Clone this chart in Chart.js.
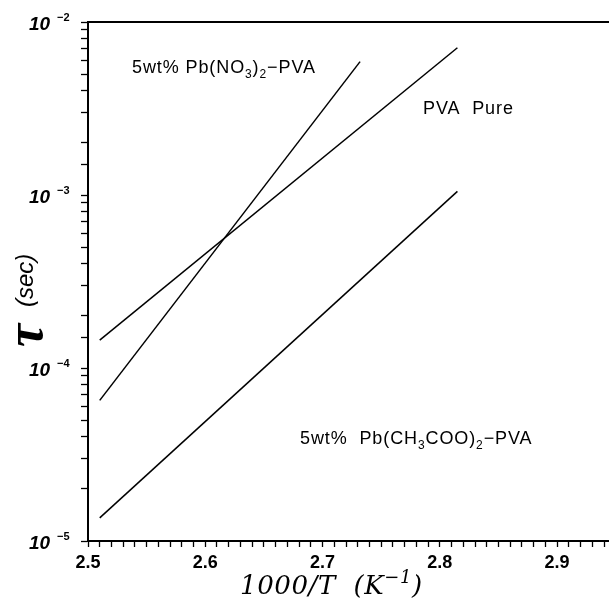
<!DOCTYPE html>
<html>
<head>
<meta charset="utf-8">
<script src="https://cdn.jsdelivr.net/npm/chart.js@4/dist/chart.umd.min.js"></script>
<style>
  html, body { margin: 0; padding: 0; background: #fff; }
  #wrap { width: 609px; height: 600px; position: relative; }
</style>
</head>
<body>
<div id="wrap"><canvas id="c" width="609" height="600"></canvas></div>
<script>
// ---- data ----
const seriesNames = ['PVA Pure', '5wt% Pb(NO3)2-PVA', '5wt% Pb(CH3COO)2-PVA'];
const pvaPureX = [2.510, 2.815];
const pvaPureY = [1.45e-4, 7.1e-3];
const pbNitrateX = [2.510, 2.732];
const pbNitrateY = [6.5e-5, 5.9e-3];
const pbAcetateX = [2.510, 2.815];
const pbAcetateY = [1.36e-5, 1.05e-3];
const xTickValues = [2.5, 2.6, 2.7, 2.8, 2.9];
const xTickLabels = ['2.5', '2.6', '2.7', '2.8', '2.9'];
const yTickValues = [1e-5, 1e-4, 1e-3, 1e-2];
const yTickExponents = ['\u22125', '\u22124', '\u22123', '\u22122'];

function pts(xs, ys) { return xs.map((x, i) => ({ x: x, y: ys[i] })); }

function drawRich(ctx, parts, x, y, size, family, style) {
  let cx = x;
  for (const [t, kind] of parts) {
    const s = kind === 'n' ? size : Math.round(size * 0.68);
    const dy = kind === 'sub' ? size * 0.28 : (kind === 'sup' ? -size * 0.42 : 0);
    ctx.font = (style ? style + ' ' : '') + s + 'px ' + family;
    ctx.fillText(t, cx, y + dy);
    cx += ctx.measureText(t).width;
  }
}

const decor = {
  id: 'decor',
  afterDraw(chart) {
    const ctx = chart.ctx;
    const a = chart.chartArea;
    const ys = chart.scales.y;
    ctx.save();
    // top frame line
    ctx.strokeStyle = '#000';
    ctx.lineWidth = 2;
    ctx.beginPath();
    ctx.moveTo(a.left - 1, a.top);
    ctx.lineTo(chart.width, a.top);
    ctx.stroke();

    ctx.fillStyle = '#000';
    ctx.textBaseline = 'alphabetic';
    ctx.textAlign = 'left';

    // y tick labels: 10 with superscript exponent
    yTickValues.forEach((v, i) => {
      const py = ys.getPixelForValue(v);
      ctx.font = 'bold italic 19px "Liberation Sans", Arial, sans-serif';
      ctx.fillText('10', 29, py + 8);
      ctx.font = 'bold 11px "Liberation Sans", Arial, sans-serif';
      ctx.fillText(yTickExponents[i], 57, py - 1);
    });

    const fam = '"Liberation Sans", Arial, sans-serif';
    ctx.letterSpacing = '0.9px';
    // series labels
    drawRich(ctx, [['5wt% Pb(NO', 'n'], ['3', 'sub'], [')', 'n'], ['2', 'sub'], ['\u2212PVA', 'n']], 132, 73, 18, fam, '');
    drawRich(ctx, [['PVA  Pure', 'n']], 423, 114, 18, fam, '');
    drawRich(ctx, [['5wt%  Pb(CH', 'n'], ['3', 'sub'], ['COO)', 'n'], ['2', 'sub'], ['\u2212PVA', 'n']], 300, 444, 18, fam, '');
    ctx.letterSpacing = '0px';

    // y-axis title (rotated)
    ctx.save();
    ctx.translate(42, 347);
    ctx.rotate(-Math.PI / 2);
    ctx.textAlign = 'left';
    ctx.font = 'bold italic 52px "Liberation Serif", serif';
    ctx.fillText('\u03C4', 0, 0);
    ctx.font = 'italic 24px "Liberation Sans", Arial, sans-serif';
    ctx.fillText('(sec)', 40, -9);
    ctx.restore();

    // x-axis title
    ctx.letterSpacing = '0.6px';
    drawRich(ctx, [['1000/T  (K', 'n'], ['\u22121', 'sup'], [')', 'n']], 240, 594, 26, '"DejaVu Serif", serif', 'italic');
    ctx.letterSpacing = '0px';
    ctx.restore();
  }
};

const lineStyle = { borderColor: '#000', borderWidth: 1.5, pointRadius: 0, fill: false, tension: 0 };

new Chart(document.getElementById('c'), {
  type: 'line',
  data: {
    datasets: [
      Object.assign({ label: seriesNames[0], data: pts(pvaPureX, pvaPureY) }, lineStyle),
      Object.assign({ label: seriesNames[1], data: pts(pbNitrateX, pbNitrateY) }, lineStyle),
      Object.assign({ label: seriesNames[2], data: pts(pbAcetateX, pbAcetateY) }, lineStyle)
    ]
  },
  options: {
    responsive: false,
    animation: false,
    devicePixelRatio: 1,
    layout: { padding: { top: 22, right: 0, left: 0, bottom: 0 } },
    plugins: { legend: { display: false }, tooltip: { enabled: false } },
    scales: {
      x: {
        type: 'linear',
        min: 2.5,
        max: 2.944,
        afterBuildTicks(scale) {
          const t = [];
          for (let i = 0; i <= 44; i++) t.push({ value: (250 + i) / 100 });
          scale.ticks = t;
        },
        afterFit(scale) { scale.height = 59; },
        border: { display: true, color: '#000', width: 2 },
        grid: { drawOnChartArea: false, drawTicks: true, tickLength: 6, tickColor: '#000', tickWidth: 1.3 },
        ticks: {
          autoSkip: false,
          maxRotation: 0,
          padding: 5,
          color: '#000',
          font: { family: '"Liberation Sans", Arial, sans-serif', size: 18, weight: 'bold' },
          callback(v) {
            const k = xTickValues.findIndex(tv => Math.abs(tv - v) < 1e-6);
            return k >= 0 ? xTickLabels[k] : '';
          }
        }
      },
      y: {
        type: 'logarithmic',
        min: 1e-5,
        max: 1e-2,
        afterFit(scale) { scale.width = 88; },
        border: { display: true, color: '#000', width: 2 },
        grid: { drawOnChartArea: false, drawTicks: true, tickLength: 7, tickColor: '#000', tickWidth: 1.3 },
        ticks: { display: false, autoSkip: false }
      }
    }
  },
  plugins: [decor]
});
</script>
</body>
</html>
